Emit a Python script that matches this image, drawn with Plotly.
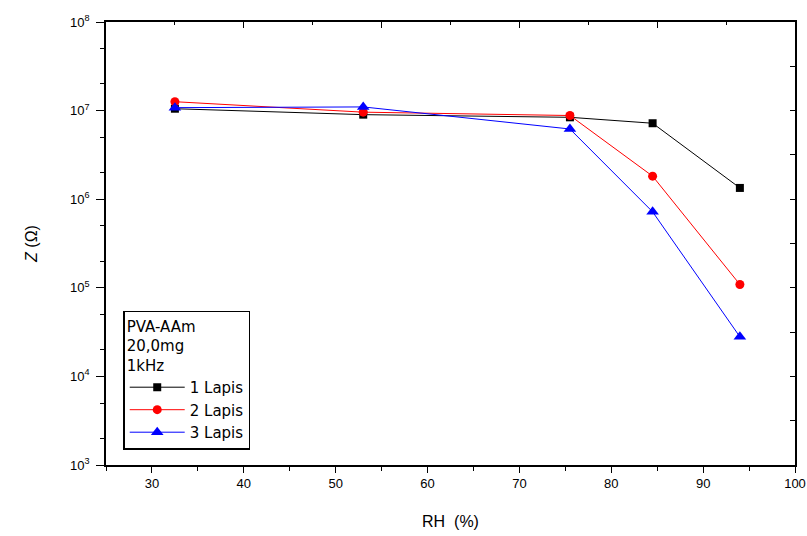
import plotly.graph_objects as go

rh = [32.5, 53, 75.5, 84.5, 94]
z_1lapis = [1.05e7, 9.0e6, 8.4e6, 7.2e6, 1.34e6]
z_2lapis = [1.26e7, 9.6e6, 8.8e6, 1.82e6, 1.09e5]
z_3lapis = [1.08e7, 1.1e7, 6.2e6, 7.2e5, 2.8e4]

series = [
    ("1 Lapis", z_1lapis, "black", "square", 8),
    ("2 Lapis", z_2lapis, "red", "circle", 9),
    ("3 Lapis", z_3lapis, "blue", "triangle-up", 11),
]

ytick_vals = [1e3, 1e4, 1e5, 1e6, 1e7, 1e8]
ytick_text = ["10<sup>3</sup>", "10<sup>4</sup>", "10<sup>5</sup>", "10<sup>6</sup>", "10<sup>7</sup>", "10<sup>8</sup>"]
xtick_vals = [30, 40, 50, 60, 70, 80, 90, 100]

fig = go.Figure()
for name, vals, col, sym, sz in series:
    fig.add_trace(go.Scatter(
        x=rh, y=vals, name=name, mode="lines+markers",
        line=dict(color=col, width=1),
        marker=dict(symbol=sym, size=sz, color=col),
    ))

font = "Liberation Sans, Arial, sans-serif"
fig.update_layout(
    width=807, height=536,
    margin=dict(l=106, r=12, t=22, b=71, autoexpand=False),
    paper_bgcolor="white", plot_bgcolor="white",
    font=dict(family=font, size=12, color="black"),
    showlegend=True,
    legend=dict(
        x=0.025, y=0.034, xanchor="left", yanchor="bottom",
        bordercolor="black", borderwidth=1.5, bgcolor="rgba(0,0,0,0)",
        title=dict(text="PVA-AAm<br>20,0mg<br>1kHz",
                   font=dict(size=15, family="DejaVu Sans")),
        font=dict(size=15, family="DejaVu Sans"), tracegroupgap=0, itemwidth=55,
    ),
    xaxis=dict(
        range=[25, 100], tickvals=xtick_vals, ticks="outside", ticklen=6,
        tickcolor="black", showline=True, linecolor="black", linewidth=1.5,
        showgrid=False, zeroline=False, automargin=True,
        minor=dict(dtick=5, tick0=25, ticks="outside", ticklen=4, tickcolor="black"),
        title=dict(text="RH  (%)", font=dict(size=16), standoff=25),
        tickfont=dict(size=13),
    ),
    yaxis=dict(
        type="log", range=[3, 8], tickvals=ytick_vals, ticktext=ytick_text,
        ticks="outside", ticklen=8, tickcolor="black",
        showline=True, linecolor="black", linewidth=1.5,
        showgrid=False, zeroline=False, automargin=True,
        minor=dict(ticks="outside", ticklen=4, tickcolor="black", showgrid=False),
        title=dict(text="<i>Z</i> (Ω)", font=dict(size=16), standoff=29),
        tickfont=dict(size=13),
        ticklabelstandoff=4,
    ),
    xaxis2=dict(
        overlaying="x", side="top", range=[0, 10], tickvals=[2, 4, 6, 8],
        ticks="inside", ticklen=6, tickcolor="black", showticklabels=False,
        showline=True, linecolor="black", linewidth=1.5, showgrid=False,
        zeroline=False, automargin=False,
        minor=dict(tickvals=[1, 3, 5, 7, 9], ticks="inside", ticklen=3, tickcolor="black"),
    ),
    yaxis2=dict(
        overlaying="y", side="right", range=[0, 10], dtick=1,
        ticks="inside", ticklen=5, tickcolor="black", showticklabels=False,
        showline=True, linecolor="black", linewidth=1.5, showgrid=False,
        zeroline=False, automargin=False,
    ),
)
# invisible helper trace so the secondary frame axes are drawn
fig.add_trace(go.Scatter(x=[None], y=[None], xaxis="x2", yaxis="y2",
                         showlegend=False, hoverinfo="skip"))
fig.write_html("out.html")
